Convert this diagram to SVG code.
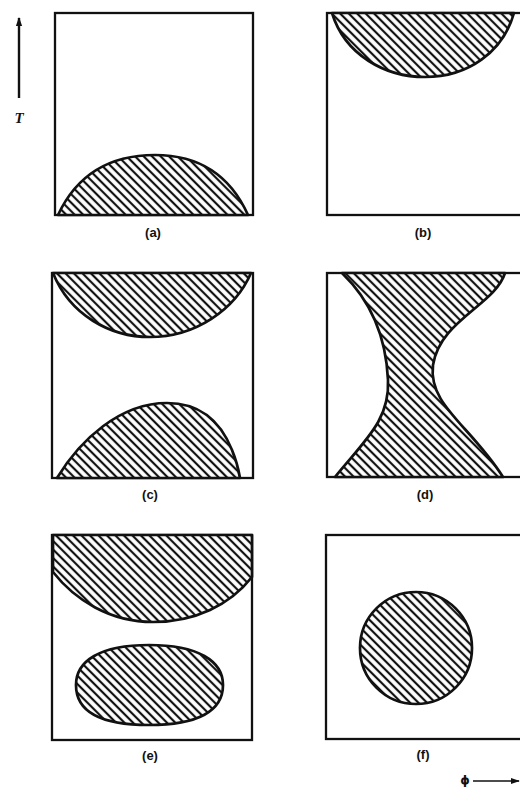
<svg xmlns="http://www.w3.org/2000/svg" width="520" height="787" viewBox="0 0 520 787">
<style>
.box{fill:none;stroke:#111;stroke-width:2.3}
.sh{fill:url(#hatch);stroke:#111;stroke-width:2.7;stroke-linejoin:round}
.lbl{font-family:"Liberation Sans",Arial,sans-serif;font-weight:bold;font-size:13px;fill:#111;text-anchor:middle}
.ax{font-family:"Liberation Serif","Times New Roman",serif;font-weight:bold;font-style:italic;font-size:15px;fill:#111;text-anchor:middle}
.phi{font-family:"DejaVu Sans","Liberation Sans",sans-serif;font-weight:bold;font-size:12px;fill:#111;text-anchor:middle}
</style>
<defs>
<pattern id="hatch" patternUnits="userSpaceOnUse" width="6" height="6" patternTransform="rotate(45)">
<rect width="6" height="6" fill="#fff"/>
<line x1="0" y1="3" x2="6" y2="3" stroke="#111" stroke-width="2.2"/>
</pattern>
<marker id="ah" viewBox="0 0 10 10" refX="9" refY="5" markerWidth="9" markerHeight="9" orient="auto" markerUnits="userSpaceOnUse">
<path d="M0,1.5 L10,5 L0,8.5 Z" fill="#111"/>
</marker>
</defs>
<rect width="520" height="787" fill="#fff"/>

<g id="axis-T">
<line x1="19" y1="98" x2="19" y2="18" stroke="#111" stroke-width="2.4" marker-end="url(#ah)"/>
<text class="ax" x="19" y="123">T</text>
</g>

<g id="panel-a">
<rect class="box" x="55" y="13" width="198" height="202"/>
<path class="sh" d="M58,215 C80,168 118,155 155,155 C198,155 230,175 248,215 Z"/>
<text class="lbl" x="153" y="237">(a)</text>
</g>

<g id="panel-b">
<rect class="box" x="327" y="13" width="200" height="202"/>
<path class="sh" d="M332,13 C345,55 385,77 425,77 C468,77 503,52 514,13 Z"/>
<text class="lbl" x="423" y="237">(b)</text>
</g>

<g id="panel-c">
<rect class="box" x="52" y="273" width="201" height="205"/>
<path class="sh" d="M53,273 L251,273 C235,310 195,337 150,337 C110,337 70,315 53,273 Z"/>
<path class="sh" d="M57,478 C80,440 120,403 167,403 C200,403 220,420 232,450 C237,462 239,472 240,478 Z"/>
<text class="lbl" x="150" y="499">(c)</text>
</g>

<g id="panel-d">
<rect class="box" x="327" y="273" width="200" height="204"/>
<path class="sh" d="M342,273 L505,273 C495,305 440,320 433,365 C428,405 470,425 503,477 L335,477 C365,440 390,420 388,380 C386,335 370,300 342,273 Z"/>
<text class="lbl" x="425" y="499">(d)</text>
</g>

<g id="panel-e">
<rect class="box" x="52" y="535" width="200" height="205"/>
<path class="sh" d="M53,535 L252,535 L252,577 C230,605 195,622 153,622 C110,622 75,600 53,572 Z"/>
<path class="sh" d="M149,645 C198,645 223,661 223,685 C223,711 198,725 149,725 C100,725 76,711 76,685 C76,661 100,645 149,645 Z"/>
<text class="lbl" x="150" y="760">(e)</text>
</g>

<g id="panel-f">
<rect class="box" x="326" y="535" width="200" height="204"/>
<circle class="sh" cx="416" cy="648" r="56"/>
<text class="lbl" x="423" y="759">(f)</text>
</g>

<g id="axis-phi">
<text class="phi" x="465" y="784">ϕ</text>
<line x1="473" y1="781" x2="519" y2="781" stroke="#111" stroke-width="1.6" marker-end="url(#ah)"/>
</g>
</svg>
